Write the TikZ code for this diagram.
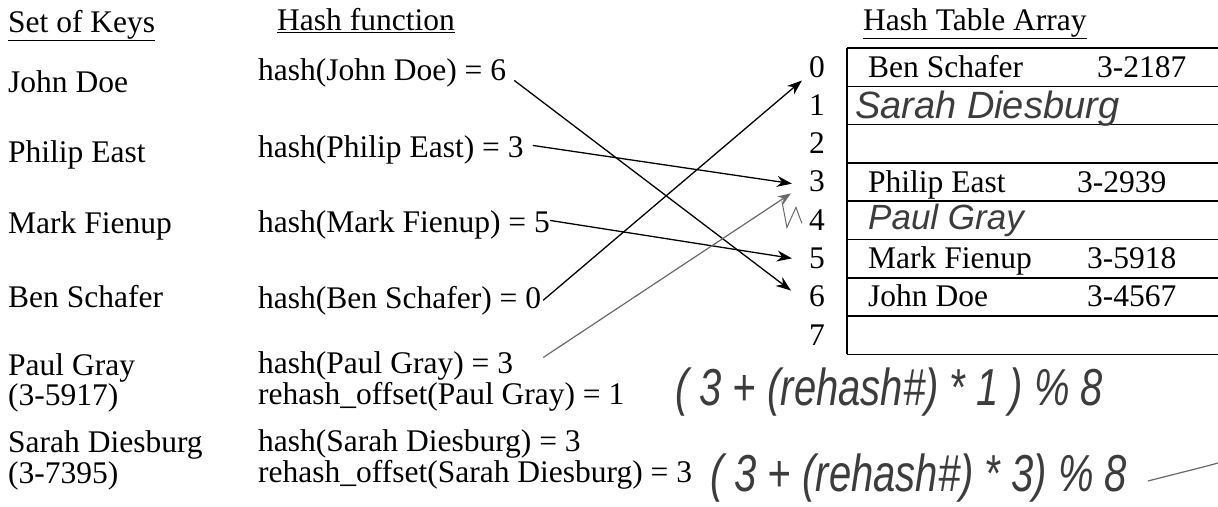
\documentclass[tikz,border=0pt]{standalone}
\usepackage{fontspec}
\setmainfont{Liberation Serif}
\newfontfamily\handfont{Liberation Sans}
\usetikzlibrary{arrows.meta,positioning,calc}
\definecolor{inkgray}{RGB}{60,60,60}
\definecolor{pencil}{RGB}{105,105,105}
\tikzset{
  txt/.style={anchor=base west, inner sep=2pt, font=\fontsize{31.5}{33}\selectfont},
  heading/.style={txt},
  idx/.style={anchor=base, inner sep=3pt, font=\fontsize{31.5}{33}\selectfont},
  hand/.style={anchor=base west, inner sep=0pt, text=inkgray,
    font=\handfont\itshape\fontsize{38}{40}\selectfont},
  bighand/.style={hand, font=\handfont\itshape\fontsize{40}{42}\selectfont},
  slotline/.style={line width=1.6pt},
  arr/.style={-{Stealth[length=15pt,width=11pt]}, line width=1.3pt},
  handarr/.style={-{Stealth[length=13pt,width=10pt]}, line width=1.2pt, pencil}
}

\begin{document}
\begin{tikzpicture}[x=1pt,y=-1pt]
  \useasboundingbox (0,0) rectangle (1218,506);

  % headings
  \node[heading] (keyshead) at (6,32) {\underline{Set of Keys}};
  \node[heading] (fnhead) at (275,30) {\underline{Hash function}};
  \node[heading] (tabhead) at (861,30) {\underline{Hash Table Array}};

  % keys
  \node[txt] (kJohn) at (6,92) {John Doe};
  \node[txt] (kPhilip) at (6,162) {Philip East};
  \node[txt] (kMark) at (6,233) {Mark Fienup};
  \node[txt] (kBen) at (6,307) {Ben Schafer};
  \node[txt] (kPaul) at (6,375) {Paul Gray};
  \node[txt] (kPaulNo) at (6,405) {(3-5917)};
  \node[txt] (kSarah) at (6,452) {Sarah Diesburg};
  \node[txt] (kSarahNo) at (6,483) {(3-7395)};

  % hash values
  \node[txt] (hJohn) at (256,80) {hash(John Doe) = 6};
  \node[txt] (hPhilip) at (256,157) {hash(Philip East) = 3};
  \node[txt] (hMark) at (256,232) {hash(Mark Fienup) = 5};
  \node[txt] (hBen) at (256,308) {hash(Ben Schafer) = 0};
  \node[txt] (hPaul) at (256,373) {hash(Paul Gray) = 3};
  \node[txt] (rPaul) at (256,404) {rehash\_offset(Paul Gray) = 1};
  \node[txt] (hSarah) at (256,451) {hash(Sarah Diesburg) = 3};
  \node[txt] (rSarah) at (256,482) {rehash\_offset(Sarah Diesburg) = 3};

  % table
  \foreach \i in {0,...,7}
    \node[idx] (idx\i) at (817,{77+38.3*\i}) {\i};
  \foreach \i in {0,...,8}
    \draw[slotline] (847,{48+38.3*\i}) -- (1218,{48+38.3*\i});
  \draw[slotline] (847,48) -- (847,{48+38.3*8});

  \node[txt] (cBen) at (866,77) {Ben Schafer};
  \node[txt] (nBen) at (1095,77) {3-2187};
  \node[hand] (cSarah) at (855,118) {Sarah Diesburg};
  \node[txt] (cPhilip) at (866,192) {Philip East};
  \node[txt] (nPhilip) at (1075,192) {3-2939};
  \node[hand, font=\handfont\itshape\fontsize{35}{37}\selectfont] (cPaul) at (868,229) {Paul Gray};
  \node[txt] (cMark) at (866,268.5) {Mark Fienup};
  \node[txt] (nMark) at (1085,268.5) {3-5918};
  \node[txt] (cJohn) at (866,306.8) {John Doe};
  \node[txt] (nJohn) at (1085,306.8) {3-4567};

  % hash arrows
  \draw[arr] ($(hJohn.east)+(6,8)$) -- ($(idx6.west)+(-15,-6)$);
  \draw[arr] ($(hPhilip.east)+(7,-4)$) -- ($(idx3.west)+(-14,2)$);
  \draw[arr] ($(hMark.east)+(-2,-4)$) -- ($(idx5.west)+(-14,0)$);
  \draw[arr] (hBen.east) -- ($(idx0.south west)+(-4,0)$);

  % pencil notes
  \draw[handarr] ($(hPaul.east)+(28,-8)$) -- ($(idx3.south west)+(-15,-2)$);
  \draw[pencil, line width=1pt] ($(idx3.south west)+(-24,6)$) -- ++(5,26) -- ++(9,-20) -- ++(6,16);
  \node[bighand] (fPaul) at (675,405) {\scalebox{1}[1.3]{( 3 + (rehash\#) * 1 ) \% 8}};
  \node[bighand] (fSarah) at (710,491) {\scalebox{1}[1.3]{( 3 + (rehash\#) * 3) \% 8}};
  \draw[pencil, line width=1.2pt] (1148,481) .. controls (1175,474) and (1200,468) .. (1218,463);
\end{tikzpicture}
\end{document}
